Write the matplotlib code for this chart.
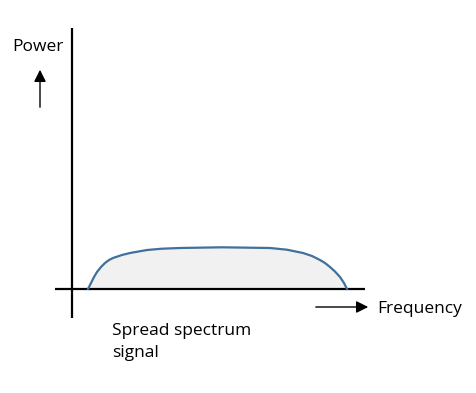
import matplotlib.pyplot as plt

# spectrum shape (frequency, power), arbitrary units
freq = [16, 18, 20, 22, 25, 29, 33, 37, 41, 50, 58, 75, 90, 108, 150, 198, 215, 231, 240, 248, 253, 258, 263, 268, 272, 275]
power = [0, 4, 8, 12, 17, 22, 26, 29, 31, 34, 36, 39, 40.3, 41, 41.7, 41, 39.3, 36, 33, 29, 26, 22, 17.5, 12, 6, 0]

xlabel = "Frequency"
ylabel = "Power"
caption = "Spread spectrum\nsignal"

plt.rcParams['font.family'] = ['Open Sans', 'DejaVu Sans']

fig = plt.figure(figsize=(4.76, 3.93), dpi=100)
ax = fig.add_axes([0, 0, 1, 1])
ax.set_xlim(-72, 404)
ax.set_ylim(-104, 289)
ax.axis('off')

# axis lines
ax.plot([0, 0], [-29, 261], color='black', lw=1.6, solid_capstyle='butt')
ax.plot([-17, 293], [0, 0], color='black', lw=1.6, solid_capstyle='butt')

# spectrum
ax.fill_between(freq, power, 0, color='#f1f1f1', zorder=1)
ax.plot(freq, power, color='#41709c', lw=1.6, zorder=2)

# arrows
ax.annotate('', xy=(-32, 222), xytext=(-32, 179),
            arrowprops=dict(arrowstyle='-|>', color='black', lw=1, mutation_scale=18))
ax.annotate('', xy=(299, -18), xytext=(241, -18),
            arrowprops=dict(arrowstyle='-|>', color='black', lw=1, mutation_scale=18))

ax.text(-60, 242, ylabel, fontsize=12.5, va='center', ha='left')
ax.text(305, -20, xlabel, fontsize=12.5, va='center', ha='left')
ax.text(40, -53, caption, fontsize=12.5, va='center', ha='left', linespacing=1.45)

fig.savefig('out.png', dpi=100)
